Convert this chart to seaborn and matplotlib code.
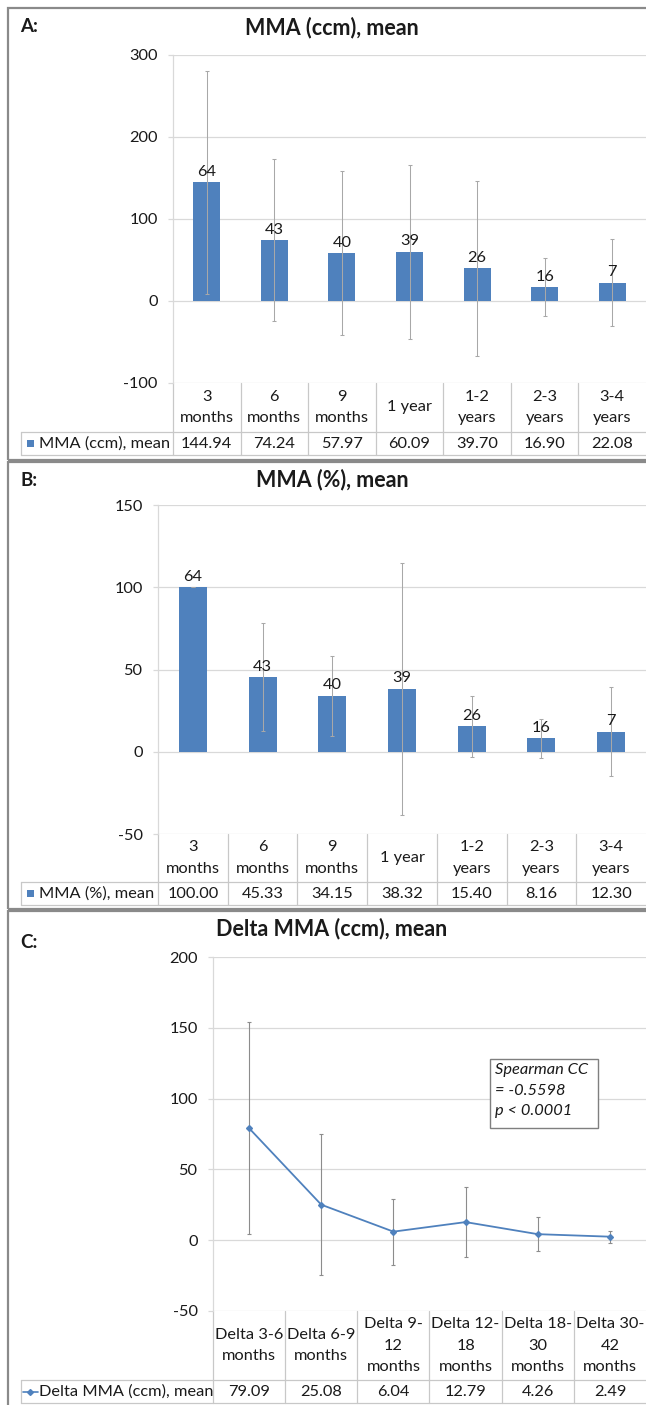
import matplotlib
matplotlib.use("Agg")
import matplotlib.pyplot as plt
import seaborn as sns
import pandas as pd
from matplotlib.transforms import blended_transform_factory
from matplotlib.lines import Line2D
from matplotlib.patches import Rectangle

# ---- data ---------------------------------------------------------------
bar_periods = ["3 months", "6 months", "9 months", "1 year",
               "1-2 years", "2-3 years", "3-4 years"]
bar_period_labels = ["3\nmonths", "6\nmonths", "9\nmonths", "1 year",
                     "1-2\nyears", "2-3\nyears", "3-4\nyears"]
n_patients = [64, 43, 40, 39, 26, 16, 7]

mma_ccm_mean = [144.94, 74.24, 57.97, 60.09, 39.70, 16.90, 22.08]
mma_ccm_sd = [136.0, 99.0, 100.0, 106.0, 107.0, 35.0, 53.0]

mma_pct_mean = [100.00, 45.33, 34.15, 38.32, 15.40, 8.16, 12.30]
mma_pct_sd = [0.0, 33.0, 24.3, 76.5, 18.6, 11.9, 26.8]

delta_periods = ["Delta 3-6 months", "Delta 6-9 months", "Delta 9-12 months",
                 "Delta 12-18 months", "Delta 18-30 months", "Delta 30-42 months"]
delta_period_labels = ["Delta 3-6\nmonths", "Delta 6-9\nmonths", "Delta 9-\n12\nmonths",
                       "Delta 12-\n18\nmonths", "Delta 18-\n30\nmonths", "Delta 30-\n42\nmonths"]
delta_mean = [79.09, 25.08, 6.04, 12.79, 4.26, 2.49]
delta_sd = [75.0, 50.0, 23.3, 24.5, 12.2, 4.3]

# ---- style --------------------------------------------------------------
sns.set_theme(style="white")
plt.rcParams["font.family"] = ["Lato", "DejaVu Sans"]

BLUE = "#4F81BD"
GRID = "#D9D9D9"
TABLE = "#C8C8C8"
ERR = "#A8A8A8"
FRAME = "#8A8A8A"
TEXT = "#1A1A1A"
FS = 11.8

W, H, DPI = 646, 1405, 100
fig = plt.figure(figsize=(W / DPI, H / DPI), dpi=DPI)
fig.patch.set_facecolor("white")


def fx(px):
    return px / W


def fy(py):
    return 1 - py / H


def make_axes(left, top, bottom):
    return fig.add_axes([fx(left), fy(bottom), 1 - fx(left), (bottom - top) / H])


def style_axes(ax, ylim, ticks):
    ax.set_ylim(*ylim)
    ax.set_yticks(ticks)
    ax.set_yticklabels([str(t) for t in ticks])
    ax.set_xticks([])
    ax.set_xlabel("")
    ax.set_ylabel("")
    ax.grid(axis="y", color=GRID, lw=0.9)
    ax.set_axisbelow(True)
    for s in ("top", "right", "bottom"):
        ax.spines[s].set_visible(False)
    ax.spines["left"].set_color(GRID)
    ax.spines["left"].set_linewidth(0.9)
    ax.tick_params(axis="y", left=True, length=3.6, width=0.9, color=GRID,
                   pad=7.5, labelsize=FS, labelcolor=TEXT)
    ax.set_facecolor("none")


def draw_table(ax, n, labels, values, axis_bottom, cat_bottom, data_bottom,
               legend_text, legend_kind, color):
    trans = blended_transform_factory(ax.transData, fig.transFigure)
    # vertical separators
    for xv in [-0.5] + [i + 0.5 for i in range(n - 1)]:
        ax.add_line(Line2D([xv, xv], [fy(axis_bottom), fy(data_bottom)],
                           transform=trans, color=TABLE, lw=0.9, clip_on=False))
    # data row frame
    for yy in (cat_bottom, data_bottom):
        fig.add_artist(Line2D([fx(20.5), 1.0], [fy(yy), fy(yy)],
                              transform=fig.transFigure, color=TABLE, lw=0.9))
    fig.add_artist(Line2D([fx(20.5), fx(20.5)], [fy(cat_bottom), fy(data_bottom)],
                          transform=fig.transFigure, color=TABLE, lw=0.9))
    ycat = fy((axis_bottom + cat_bottom) / 2)
    yval = fy((cat_bottom + data_bottom) / 2)
    for i, (lab, v) in enumerate(zip(labels, values)):
        ax.text(i, ycat, lab, transform=trans, ha="center", va="center",
                fontsize=FS, color=TEXT, linespacing=1.65)
        ax.text(i, yval, f"{v:.2f}", transform=trans, ha="center", va="center",
                fontsize=FS, color=TEXT)
    # legend key
    if legend_kind == "bar":
        fig.add_artist(Rectangle((fx(27), fy((cat_bottom + data_bottom) / 2 + 3.5)),
                                 fx(7), 7 / H, transform=fig.transFigure,
                                 facecolor=color, edgecolor="none"))
    else:
        fig.add_artist(Line2D([fx(23), fx(38)], [yval, yval], transform=fig.transFigure,
                              color=color, lw=1.2))
        fig.add_artist(Line2D([fx(30.5)], [yval], transform=fig.transFigure, color=color,
                              marker="D", markersize=3, lw=0))
    fig.text(fx(39), yval, legend_text, ha="left", va="center", fontsize=FS, color=TEXT)


def panel_frame(top, bottom):
    fig.add_artist(Rectangle((fx(8), fy(bottom)), fx(700), (bottom - top) / H,
                             transform=fig.transFigure, fill=False,
                             edgecolor=FRAME, lw=1.6))


def panel_heading(letter, title, ytitle, yletter):
    fig.text(fx(332), fy(ytitle), title, ha="center", va="center",
             fontsize=15.5, fontweight="bold", color=TEXT)
    fig.text(fx(20), fy(yletter), letter, ha="left", va="center",
             fontsize=13.5, fontweight="bold", color=TEXT)


def bar_panel(left, top, bottom, cat_bottom, data_bottom, values, sd,
              ylim, ticks, legend_text):
    ax = make_axes(left, top, bottom)
    df = pd.DataFrame({"period": bar_periods, "value": values})
    sns.barplot(data=df, x="period", y="value", color=BLUE, saturation=1,
                width=0.4, errorbar=None, linewidth=0, ax=ax)
    ax.errorbar(range(len(values)), values, yerr=sd, fmt="none", ecolor=ERR,
                elinewidth=0.75, capsize=1.5, capthick=0.75, zorder=3)
    for i, (v, n) in enumerate(zip(values, n_patients)):
        ax.annotate(str(n), (i, v), xytext=(0, 2.5), textcoords="offset points",
                    ha="center", va="bottom", fontsize=FS, color=TEXT, zorder=4)
    ax.set_xlim(-0.5, len(values) - 0.5)
    style_axes(ax, ylim, ticks)
    draw_table(ax, len(values), bar_period_labels, values, bottom, cat_bottom,
               data_bottom, legend_text, "bar", BLUE)
    return ax


# ---- panel A ------------------------------------------------------------
panel_frame(8, 460)
panel_heading("A:", "MMA (ccm), mean", 28, 27)
bar_panel(173, 55, 383, 432, 455, mma_ccm_mean, mma_ccm_sd,
          (-100, 300), [-100, 0, 100, 200, 300], "MMA (ccm), mean")

# ---- panel B ------------------------------------------------------------
panel_frame(462, 909)
panel_heading("B:", "MMA (%), mean", 480, 480)
bar_panel(158, 505, 834, 882, 905, mma_pct_mean, mma_pct_sd,
          (-50, 150), [-50, 0, 50, 100, 150], "MMA (%), mean")

# ---- panel C ------------------------------------------------------------
panel_frame(911, 1420)
panel_heading("C:", "Delta MMA (ccm), mean", 929, 942)
axc = make_axes(213, 957, 1311)
dfc = pd.DataFrame({"period": delta_periods, "value": delta_mean})
axc.errorbar(range(len(delta_mean)), delta_mean, yerr=delta_sd, fmt="none",
             ecolor="#8C8C8C", elinewidth=0.8, capsize=1.5, capthick=0.8, zorder=2)
sns.pointplot(data=dfc, x="period", y="value", color=BLUE, markers="D",
              markersize=3, linewidth=1.3, errorbar=None, ax=axc)
for coll in axc.lines:
    coll.set_zorder(3)
axc.set_xlim(-0.5, len(delta_mean) - 0.5)
style_axes(axc, (-50, 200), [-50, 0, 50, 100, 150, 200])
draw_table(axc, len(delta_mean), delta_period_labels, delta_mean, 1311, 1380, 1403,
           "Delta MMA (ccm), mean", "line", BLUE)

# correlation annotation
axc.add_patch(Rectangle((0.640, 0.517), 0.249, 0.195, transform=axc.transAxes,
                        facecolor="white", edgecolor="#7F7F7F", lw=1.0, zorder=5))
axc.text(0.652, 0.700, "Spearman CC\n= -0.5598\np < 0.0001", transform=axc.transAxes,
         ha="left", va="top", fontsize=FS, style="italic", color=TEXT,
         linespacing=1.6, zorder=6)

fig.savefig("out.png", dpi=DPI, facecolor="white")
